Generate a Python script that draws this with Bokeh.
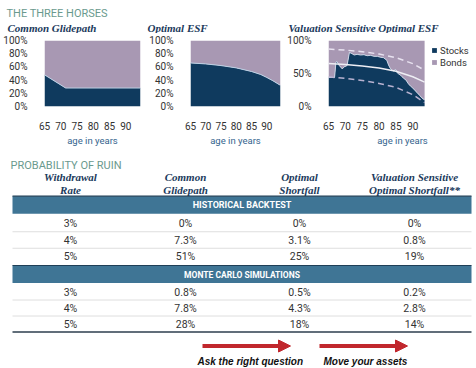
from bokeh.plotting import figure
from bokeh.layouts import column, row
from bokeh.models import (Range1d, Legend, LegendItem, Arrow, NormalHead,
                          PrintfTickFormatter, FixedTicker)
from bokeh.core.properties import value
from bokeh.embed import file_html
from bokeh.resources import INLINE

# ---------------- data ----------------
age_ticks = [65, 70, 75, 80, 85, 90]

ages_cg = [65, 71.5, 94.5]
stocks_cg = [48, 28, 28]

ages_opt = [65, 70, 75, 80, 85, 88, 90, 92, 94.5]
stocks_opt = [66, 64.5, 62, 58.5, 53, 48.5, 44, 39, 32]

ages_vs = [65, 66.8, 67.2, 67.5, 68.2, 69.1, 69.6, 70.5, 71.2, 72.0, 72.6, 73.5,
           74.5, 75.5, 76.5, 77.5, 78.5, 79.5, 80.5, 81.3, 81.8, 82.3, 82.8, 83.3,
           83.8, 84.3, 84.9, 85.4, 85.9, 86.5, 87.2, 88.0, 88.6, 89.3, 90.0, 90.7,
           91.3, 92.0, 92.7, 93.5]
stocks_vs = [44, 44, 67, 68, 62, 57, 60, 62, 82, 80, 78, 79,
             78, 78.5, 77, 77.5, 76, 76, 74.5, 74, 72, 70, 63, 58,
             55, 54, 56, 51, 49, 47, 43, 40, 35, 31, 28, 24,
             21, 17, 13, 10]
ages_ref = [65, 70, 75, 80, 85, 90, 93.5]
upper_band = [87, 85.5, 83, 79.5, 74, 65, 55]
mid_line = [65, 63.5, 61.5, 58.5, 53.5, 45, 37]
lower_band = [45, 42.5, 39.5, 35, 29, 18, 6]

col_headers = ["Withdrawal\nRate", "Common\nGlidepath", "Optimal\nShortfall",
               "Valuation Sensitive\nOptimal Shortfall**"]
sections = ["HISTORICAL BACKTEST", "MONTE CARLO SIMULATIONS"]
withdrawal = ["3%", "4%", "5%"]
hist_common = ["0%", "7.3%", "51%"]
hist_opt = ["0%", "3.1%", "25%"]
hist_vs = ["0%", "0.8%", "19%"]
mc_common = ["0.8%", "7.8%", "28%"]
mc_opt = ["0.5%", "4.3%", "18%"]
mc_vs = ["0.2%", "2.8%", "14%"]
arrow_labels = ["Ask the right question", "Move your assets"]

# ---------------- style ----------------
NAVY = "#0f3a5e"
MAUVE = "#a898b3"
TEAL = "#6a9a8e"
HEAD = "#1b3a5c"
BAR = "#3f7595"
RED = "#c1272d"
TXT = "#333333"
SANS = "Roboto"
SERIF = "Liberation Serif"


def area_fig(width, left, right, xend, yticks):
    p = figure(width=width, height=115, x_range=Range1d(65, xend), y_range=Range1d(0, 100),
               output_backend="svg", toolbar_location=None,
               min_border_left=left, min_border_right=right, min_border_top=7,
               min_border_bottom=35)
    p.outline_line_color = None
    p.grid.visible = False
    p.xaxis.ticker = FixedTicker(ticks=age_ticks)
    p.yaxis.ticker = FixedTicker(ticks=yticks)
    p.yaxis.formatter = PrintfTickFormatter(format="%d%%")
    for ax in p.axis:
        ax.axis_line_color = None
        ax.major_tick_line_color = None
        ax.minor_tick_line_color = None
        ax.major_label_text_font = SANS
        ax.major_label_text_font_size = "10px"
        ax.major_label_text_color = TXT
    p.yaxis.major_label_standoff = 11
    p.xaxis.major_label_standoff = 9
    p.xaxis.axis_label = "age in years"
    p.xaxis.axis_label_standoff = 2
    p.xaxis.axis_label_text_font = SANS
    p.xaxis.axis_label_text_font_style = "normal"
    p.xaxis.axis_label_text_font_size = "9.5px"
    p.xaxis.axis_label_text_color = "#34648e"
    return p


def stack(p, xs, ys, edge="#bcd0e4"):
    rs = p.varea(x=xs, y1=0, y2=ys, fill_color=NAVY)
    rb = p.varea(x=xs, y1=ys, y2=100, fill_color=MAUVE)
    p.line(xs, ys, line_color=edge, line_width=1)
    return rs, rb


# strip with section title and chart titles
s = figure(width=476, height=33, x_range=Range1d(0, 476), y_range=Range1d(33, 0),
           output_backend="svg", toolbar_location=None, min_border=0,
           x_axis_location=None, y_axis_location=None)
s.outline_line_color = None
s.grid.visible = False
s.text(x=[6], y=[13], text=["THE THREE HORSES"], text_font=value(SANS),
       text_font_size="11px", text_color=TEAL, text_baseline="alphabetic")
s.text(x=[7, 147, 288], y=[27, 27, 27],
       text=["Common Glidepath", "Optimal ESF", "Valuation Sensitive Optimal ESF"],
       text_font=value(SERIF), text_font_style="bold italic", text_font_size="11px",
       text_color=HEAD, text_baseline="alphabetic")

f1 = area_fig(146, 40, 6, 94.5, [0, 20, 40, 60, 80, 100])
stack(f1, ages_cg, stocks_cg)

f2 = area_fig(138, 34, 4, 94.5, [0, 20, 40, 60, 80, 100])
stack(f2, ages_opt, stocks_opt)

# chart 3: the frame runs on to the right edge so the legend can sit beside the areas
vs_end = ages_vs[-1]
vs_span = vs_end - ages_vs[0]
f3 = area_fig(192, 38, 0, vs_end + vs_span * 54 / 100, [0, 50, 100])
f3.background_fill_color = "white"
rs, rb = stack(f3, ages_vs, stocks_vs, edge="#c8d4e4")
f3.line(ages_ref, upper_band, line_color="#e8e2f0", line_width=1.5, line_dash="6 4")
f3.line(ages_ref, mid_line, line_color="#eeeef4", line_width=1.5)
f3.line(ages_ref, lower_band, line_color="#b8b2d0", line_width=1.5, line_dash="6 4")
legend = Legend(items=[LegendItem(label="Stocks", renderers=[rs]),
                       LegendItem(label="Bonds", renderers=[rb])],
                location=(103, 38), glyph_width=6, glyph_height=6, label_standoff=3,
                label_height=12, spacing=0, padding=0, margin=0,
                border_line_color=None, background_fill_alpha=0,
                label_text_font=SANS, label_text_font_size="9.5px",
                label_text_color=TXT)
f3.add_layout(legend)

# ---------------- table ----------------
t = figure(width=476, height=220, x_range=Range1d(0, 476), y_range=Range1d(368, 148),
           output_backend="svg", toolbar_location=None, min_border=0,
           x_axis_location=None, y_axis_location=None)
t.outline_line_color = None
t.grid.visible = False

col_x = [70, 185, 299, 414]
t.text(x=[10], y=[165], text=["PROBABILITY OF RUIN"], text_font=value(SANS),
       text_font_size="11px", text_color=TEAL, text_baseline="alphabetic")
line1 = [h.split("\n")[0] for h in col_headers]
line2 = [h.split("\n")[1] for h in col_headers]
for txt, yy in ((line1, 176.5), (line2, 189)):
    t.text(x=col_x, y=[yy] * 4, text=txt, text_font=value(SERIF),
           text_font_style="bold italic", text_font_size="11px", text_color=HEAD,
           text_align="center", text_baseline="middle")

left_x, right_x = 12, 471
bar_tops = [195.7, 265]
bar_h = 17.5
t.quad(left=left_x, right=right_x, top=bar_tops, bottom=[b + bar_h for b in bar_tops],
       fill_color=BAR, line_color=None)
t.segment(x0=left_x, x1=right_x, y0=bar_tops, y1=bar_tops, line_color="#1f3f57",
          line_width=1.2)
t.text(x=[241.5, 241.5], y=[b + bar_h / 2 + 0.5 for b in bar_tops], text=sections,
       text_font=value(SANS), text_font_style="bold",
       text_font_size=["9px", "8.5px"], text_color="white",
       text_align="center", text_baseline="middle")

row_h = [16.5, 16.0]
first_row = [223, 291.5]
blocks = [(withdrawal, hist_common, hist_opt, hist_vs),
          (withdrawal, mc_common, mc_opt, mc_vs)]
for bi, cols in enumerate(blocks):
    ys = [first_row[bi] + i * row_h[bi] for i in range(len(withdrawal))]
    for ci, vals in enumerate(cols):
        t.text(x=[col_x[ci]] * len(vals), y=ys, text=vals, text_font=value(SANS),
               text_font_size="10.5px", text_color=TXT, text_align="center",
               text_baseline="middle")
    seps = [y + row_h[bi] / 2 for y in ys[:-1]]
    t.segment(x0=left_x, x1=right_x, y0=seps, y1=seps, line_color="#dedede", line_width=1)
    if bi == 1:
        yb = ys[-1] + row_h[bi] / 2
        t.segment(x0=[left_x], x1=[right_x], y0=[yb], y1=[yb], line_color="#2d3e4e",
                  line_width=1.5)

arrow_x0 = [202, 319]
arrow_x1 = [290, 407]
for xa, xb in zip(arrow_x0, arrow_x1):
    t.add_layout(Arrow(x_start=xa, y_start=345.5, x_end=xb, y_end=345.5, line_width=4,
                       line_color=RED,
                       end=NormalHead(size=12, fill_color=RED, line_color=RED)))
t.text(x=[197, 323], y=[360.5, 360.5], text=arrow_labels, text_font=value("Liberation Sans"),
       text_font_style="bold italic", text_font_size="10px", text_color="#111111",
       text_baseline="alphabetic")

layout = column(s, row(f1, f2, f3), t)
open("out.html", "w").write(file_html(layout, INLINE))
